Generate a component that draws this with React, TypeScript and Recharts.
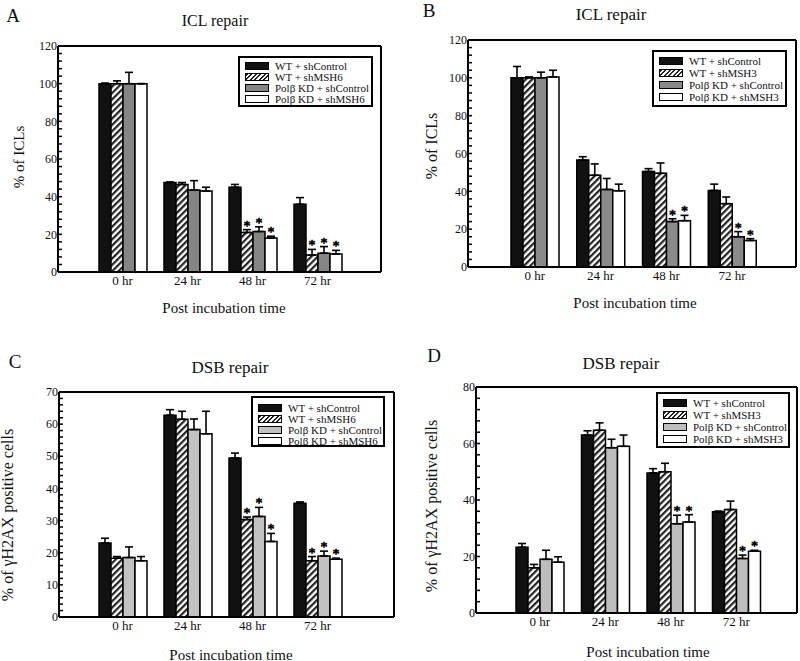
import React from 'react';
import { BarChart, Bar, XAxis, YAxis, ErrorBar, LabelList, Legend } from 'recharts';

const FONT = "'Liberation Serif', 'Times New Roman', Times, serif";

// ---------- shared ----------
const hours = ['0 hr', '24 hr', '48 hr', '72 hr'];
const namesMSH6 = ['WT + shControl', 'WT + shMSH6', 'Polβ KD + shControl', 'Polβ KD + shMSH6'];
const namesMSH3 = ['WT + shControl', 'WT + shMSH3', 'Polβ KD + shControl', 'Polβ KD + shMSH3'];

// ---------- Panel A : ICL repair (shMSH6) ----------
const aWtCtl = [100, 47.5, 45, 36];
const aWtSh = [100, 46.5, 21, 9];
const aPolCtl = [100, 43.5, 21.5, 10];
const aPolSh = [100, 43, 18, 9.5];
const aErrWtCtl = [0.3, 0.3, 1.5, 3.5];
const aErrWtSh = [1.5, 1, 1.5, 3];
const aErrPolCtl = [6, 5, 2.5, 3.5];
const aErrPolSh = [0, 2, 1, 2];
const aStarWtSh = [0, 0, 1, 1];
const aStarPolCtl = [0, 0, 1, 1];
const aStarPolSh = [0, 0, 1, 1];
const aYTicks = [0, 20, 40, 60, 80, 100, 120];

// ---------- Panel B : ICL repair (shMSH3) ----------
const bWtCtl = [100, 56.5, 50.5, 40.5];
const bWtSh = [100, 48.5, 49.5, 33.5];
const bPolCtl = [100, 41, 24, 16];
const bPolSh = [100.5, 40.3, 24.5, 14];
const bErrWtCtl = [6, 1.8, 1.5, 3.3];
const bErrWtSh = [0.5, 6, 5.5, 3.5];
const bErrPolCtl = [3, 5.8, 1.5, 2.7];
const bErrPolSh = [3.5, 3.5, 2.8, 1];
const bStarWtSh = [0, 0, 0, 0];
const bStarPolCtl = [0, 0, 1, 1];
const bStarPolSh = [0, 0, 1, 1];
const bYTicks = [0, 20, 40, 60, 80, 100, 120];

// ---------- Panel C : DSB repair (shMSH6) ----------
const cWtCtl = [23, 62.8, 49.5, 35.4];
const cWtSh = [18.3, 61.5, 30.3, 17.5];
const cPolCtl = [18.5, 58.3, 31.3, 19];
const cPolSh = [17.5, 57, 23.5, 18];
const cErrWtCtl = [1.5, 1.7, 1.5, 0.4];
const cErrWtSh = [0.5, 2.5, 0.8, 1.3];
const cErrPolCtl = [3.3, 3.3, 2.8, 1.5];
const cErrPolSh = [1.3, 7, 2.5, 0.3];
const cStarWtSh = [0, 0, 1, 1];
const cStarPolCtl = [0, 0, 1, 1];
const cStarPolSh = [0, 0, 1, 1];
const cYTicks = [0, 10, 20, 30, 40, 50, 60, 70];

// ---------- Panel D : DSB repair (shMSH3) ----------
const dWtCtl = [23.3, 63, 49.6, 35.8];
const dWtSh = [16, 64.7, 50, 36.6];
const dPolCtl = [19, 58.5, 31.6, 19.3];
const dPolSh = [18, 59, 32.2, 21.9];
const dErrWtCtl = [1.3, 1.5, 1.5, 0.3];
const dErrWtSh = [1.2, 2.6, 3, 3];
const dErrPolCtl = [3.2, 3, 3, 1.2];
const dErrPolSh = [1.9, 4, 2.6, 0.3];
const dStarWtSh = [0, 0, 0, 0];
const dStarPolCtl = [0, 0, 1, 1];
const dStarPolSh = [0, 0, 1, 1];
const dYTicks = [0, 20, 40, 60, 80];

const noStars = [0, 0, 0, 0];

function buildRows(vals: number[][], errs: number[][], stars: number[][]) {
  return hours.map((h, i) => {
    const r: any = { hour: h };
    for (let s = 0; s < 4; s++) {
      r['v' + s] = vals[s][i];
      r['e' + s] = errs[s][i];
      r['s' + s] = stars[s][i];
    }
    return r;
  });
}

const rowsA = buildRows([aWtCtl, aWtSh, aPolCtl, aPolSh], [aErrWtCtl, aErrWtSh, aErrPolCtl, aErrPolSh], [noStars, aStarWtSh, aStarPolCtl, aStarPolSh]);
const rowsB = buildRows([bWtCtl, bWtSh, bPolCtl, bPolSh], [bErrWtCtl, bErrWtSh, bErrPolCtl, bErrPolSh], [noStars, bStarWtSh, bStarPolCtl, bStarPolSh]);
const rowsC = buildRows([cWtCtl, cWtSh, cPolCtl, cPolSh], [cErrWtCtl, cErrWtSh, cErrPolCtl, cErrPolSh], [noStars, cStarWtSh, cStarPolCtl, cStarPolSh]);
const rowsD = buildRows([dWtCtl, dWtSh, dPolCtl, dPolSh], [dErrWtCtl, dErrWtSh, dErrPolCtl, dErrPolSh], [noStars, dStarWtSh, dStarPolCtl, dStarPolSh]);

const makeYTick = (major: number[]) => (props: any) => {
  const { x, y, payload } = props;
  const v = payload.value;
  const isMajor = major.some((m) => Math.abs(m - v) < 1e-6);
  return (
    <g>
      <line x1={x} x2={x + 4} y1={y} y2={y} stroke="#000" strokeWidth={1.5} />
      {isMajor && (
        <text x={x - 1} y={y} dy="0.35em" textAnchor="end" fontSize={12} fontFamily={FONT} fill="#111">
          {v}
        </text>
      )}
    </g>
  );
};

const makeStar = (rows: any[], s: number) => (props: any) => {
  const { index } = props;
  const row = rows[index];
  if (!row || !row['s' + s]) return null;
  const vb = props.viewBox && props.viewBox.width !== undefined ? props.viewBox : props;
  const x = Number(vb.x);
  const y = Number(vb.y);
  const w = Number(vb.width);
  const h = Number(vb.height);
  const v = row['v' + s];
  const top = y - row['e' + s] * (h / v);
  return (
    <text
      x={x + w / 2}
      y={top + 1}
      textAnchor="middle"
      fontSize={14}
      fontFamily={FONT}
      fill="#000"
      stroke="#000"
      strokeWidth={0.6}
    >
      *
    </text>
  );
};

function Swatch({ kind, gray }: { kind: number; gray: string }) {
  const bg =
    kind === 0
      ? '#111'
      : kind === 1
      ? 'repeating-linear-gradient(135deg, #222 0px, #222 1.6px, #fff 1.6px, #fff 3.2px)'
      : kind === 2
      ? gray
      : '#fff';
  return (
    <div
      style={{
        width: 24,
        height: 8,
        boxSizing: 'border-box',
        border: '1.5px solid #000',
        background: bg,
        marginLeft: 5,
        marginRight: 6,
        flex: 'none',
      }}
    />
  );
}

type PanelProps = {
  left: number;
  top: number;
  rows: any[];
  names: string[];
  gray: string;
  yMax: number;
  yMajor: number[];
  minorStep: number;
  plot: { l: number; r: number; t: number; b: number };
  pad: { left: number; right: number };
  leg: { x: number; y: number; w: number; h: number; lh: number; pt: number };
  pid: string;
  letter: string;
  letterPos: [number, number];
  title: string;
  titlePos: [number, number];
  titleSize: number;
  xTitle: string;
  xTitlePos: [number, number];
  yTitle: string;
  yTitlePos: [number, number];
  yTitleSize: number;
};

function Panel(p: PanelProps) {
  const W = 400;
  const H = 330;
  const YW = 40;
  const XH = 22;
  const margin = { top: p.plot.t, right: W - p.plot.r, left: p.plot.l - YW, bottom: H - p.plot.b - XH };
  const minor: number[] = [];
  const n = Math.round(p.yMax / p.minorStep);
  for (let i = 0; i <= n; i++) minor.push(i * p.minorStep);
  const fills = ['#111', `url(#${p.pid})`, p.gray, '#fff'];
  const axisLine = { stroke: '#000', strokeWidth: 2 };

  const legendContent = () => (
    <div
      style={{
        width: p.leg.w,
        height: p.leg.h,
        boxSizing: 'border-box',
        border: '2px solid #000',
        background: '#fff',
        paddingTop: p.leg.pt,
        fontFamily: FONT,
        fontSize: 11,
        color: '#111',
        whiteSpace: 'nowrap',
        overflow: 'visible',
      }}
    >
      {p.names.map((nm, i) => (
        <div key={nm} style={{ display: 'flex', alignItems: 'center', height: p.leg.lh }}>
          <Swatch kind={i} gray={p.gray} />
          <span>{nm}</span>
        </div>
      ))}
    </div>
  );

  const center: React.CSSProperties = {
    position: 'absolute',
    transform: 'translate(-50%, -50%)',
    fontFamily: FONT,
    lineHeight: 1,
    whiteSpace: 'nowrap',
    color: '#111',
  };

  return (
    <div style={{ position: 'absolute', left: p.left, top: p.top, width: W, height: H }}>
      <BarChart width={W} height={H} data={p.rows} margin={margin} barGap={0} barCategoryGap={0}>
        <defs>
          <pattern id={p.pid} patternUnits="userSpaceOnUse" width={4.5} height={4.5} patternTransform="rotate(45)">
            <rect width={4.5} height={4.5} fill="#fff" />
            <rect width={2.2} height={4.5} fill="#222" />
          </pattern>
        </defs>
        <XAxis
          dataKey="hour"
          type="category"
          interval={0}
          padding={p.pad}
          height={XH}
          tickLine={false}
          tickSize={0}
          tickMargin={4}
          axisLine={axisLine}
          tick={{ fontSize: 13, fontFamily: FONT, fill: '#111' }}
        />
        <XAxis
          xAxisId="top"
          dataKey="hour"
          orientation="top"
          mirror
          padding={p.pad}
          tick={false}
          tickLine={false}
          axisLine={axisLine}
        />
        <YAxis
          type="number"
          domain={[0, p.yMax]}
          ticks={minor}
          interval={0}
          width={YW}
          tickLine={false}
          tickSize={0}
          tickMargin={0}
          axisLine={axisLine}
          tick={makeYTick(p.yMajor)}
          allowDataOverflow
        />
        <YAxis
          yAxisId="right"
          orientation="right"
          type="number"
          domain={[0, p.yMax]}
          mirror
          tick={false}
          tickLine={false}
          axisLine={axisLine}
        />
        {[0, 1, 2, 3].map((s) => (
          <Bar
            key={s}
            dataKey={'v' + s}
            name={p.names[s]}
            fill={fills[s]}
            stroke="#000"
            strokeWidth={1.5}
            barSize={12}
            isAnimationActive={false}
          >
            <ErrorBar
              dataKey={(r: any) => [0, r['e' + s]]}
              width={4}
              stroke="#000"
              strokeWidth={1.6}
              direction="y"
              isAnimationActive={false}
            />
            <LabelList dataKey={'v' + s} content={makeStar(p.rows, s)} />
          </Bar>
        ))}
        <Legend
          layout="vertical"
          align="center"
          verticalAlign="middle"
          content={legendContent}
          wrapperStyle={{ left: p.leg.x, top: p.leg.y, width: p.leg.w, height: p.leg.h }}
        />
      </BarChart>
      <div style={{ ...center, left: p.letterPos[0], top: p.letterPos[1], fontSize: 19 }}>{p.letter}</div>
      <div style={{ ...center, left: p.titlePos[0], top: p.titlePos[1], fontSize: p.titleSize }}>{p.title}</div>
      <div style={{ ...center, left: p.xTitlePos[0], top: p.xTitlePos[1], fontSize: 15 }}>{p.xTitle}</div>
      <div
        style={{
          ...center,
          left: p.yTitlePos[0],
          top: p.yTitlePos[1],
          fontSize: p.yTitleSize,
          transform: 'translate(-50%, -50%) rotate(-90deg)',
        }}
      >
        {p.yTitle}
      </div>
    </div>
  );
}

export default function App() {
  return (
    <div style={{ position: 'absolute', left: 0, top: 0, width: 800, height: 661, background: '#fff', overflow: 'hidden' }}>
      <Panel
        left={0}
        top={0}
        rows={rowsA}
        names={namesMSH6}
        gray="#858585"
        yMax={120}
        yMajor={aYTicks}
        minorStep={4}
        plot={{ l: 58, r: 381, t: 46, b: 272 }}
        pad={{ left: 32, right: 31 }}
        leg={{ x: 238, y: 56, w: 135, h: 51, lh: 11, pt: 2 }}
        pid="hatchA"
        letter="A"
        letterPos={[13, 15]}
        title="ICL repair"
        titlePos={[215, 21]}
        titleSize={16}
        xTitle="Post incubation time"
        xTitlePos={[224, 308]}
        yTitle="% of ICLs"
        yTitlePos={[19, 157]}
        yTitleSize={15}
      />
      <Panel
        left={400}
        top={0}
        rows={rowsB}
        names={namesMSH3}
        gray="#8a8a8a"
        yMax={120}
        yMajor={bYTicks}
        minorStep={4}
        plot={{ l: 68, r: 396, t: 40, b: 267 }}
        pad={{ left: 34, right: 31 }}
        leg={{ x: 252, y: 50, w: 135, h: 57, lh: 12, pt: 3 }}
        pid="hatchB"
        letter="B"
        letterPos={[29, 10]}
        title="ICL repair"
        titlePos={[211, 14]}
        titleSize={17}
        xTitle="Post incubation time"
        xTitlePos={[235, 303]}
        yTitle="% of ICLs"
        yTitlePos={[32, 146]}
        yTitleSize={16}
      />
      <Panel
        left={0}
        top={330}
        rows={rowsC}
        names={namesMSH6}
        gray="#c2c2c2"
        yMax={70}
        yMajor={cYTicks}
        minorStep={2}
        plot={{ l: 59, r: 394, t: 62, b: 287 }}
        pad={{ left: 31, right: 44 }}
        leg={{ x: 251, y: 66, w: 134, h: 51, lh: 11, pt: 4 }}
        pid="hatchC"
        letter="C"
        letterPos={[15, 31]}
        title="DSB repair"
        titlePos={[230, 37]}
        titleSize={17}
        xTitle="Post incubation time"
        xTitlePos={[231, 325]}
        yTitle="% of γH2AX positive cells"
        yTitlePos={[8, 185]}
        yTitleSize={16}
      />
      <Panel
        left={400}
        top={330}
        rows={rowsD}
        names={namesMSH3}
        gray="#bdbdbd"
        yMax={80}
        yMajor={dYTicks}
        minorStep={4}
        plot={{ l: 76, r: 397, t: 57, b: 283 }}
        pad={{ left: 31, right: 28 }}
        leg={{ x: 256, y: 62, w: 134, h: 56, lh: 12, pt: 3 }}
        pid="hatchD"
        letter="D"
        letterPos={[34, 25]}
        title="DSB repair"
        titlePos={[221, 33]}
        titleSize={17}
        xTitle="Post incubation time"
        xTitlePos={[248, 322]}
        yTitle="% of γH2AX positive cells"
        yTitlePos={[32, 176]}
        yTitleSize={16}
      />
    </div>
  );
}
